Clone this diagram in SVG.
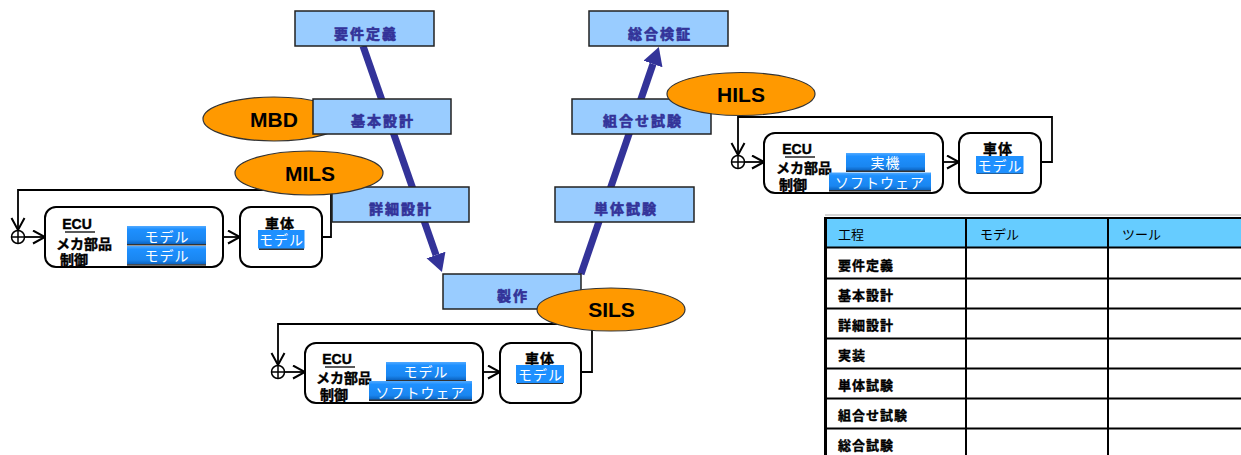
<svg xmlns="http://www.w3.org/2000/svg" width="1241" height="455" viewBox="0 0 1241 455">
  <defs>
    <style>
      text { font-family: "Liberation Sans", "Noto Sans CJK JP", sans-serif; }
      .step { fill: #99CCFF; stroke: #222; stroke-width: 1.5; }
      .steptxt { fill: #333399; stroke: #333399; stroke-width: 0.6; font-size: 14px; font-weight: bold; text-anchor: middle; letter-spacing: 2px; }
      .oval { fill: #FF9900; stroke: #333; stroke-width: 1.2; }
      .ovaltxt { fill: #000; font-size: 21px; font-weight: bold; text-anchor: middle; }
      .vline { stroke: #333399; stroke-width: 7; fill: none; }
      .loop { stroke: #000; stroke-width: 1.8; fill: none; }
      .blk { fill: #fff; stroke: #000; stroke-width: 2; }
      .lbl { fill: #000; stroke: #000; stroke-width: 0.4; font-size: 14px; font-weight: bold; }
      .hl { fill: url(#hlGrad); }
      .hlflat { fill: #1E90FF; }
      .hlshadow { fill: #333; }
      .hltxt { fill: #fff; font-size: 14px; text-anchor: middle; letter-spacing: 1px; }
      .grid { stroke: #000; stroke-width: 2; fill: none; }
      .gridshade { stroke: #aaa; stroke-width: 1; fill: none; }
      .thead { fill: #000; font-size: 13px; }
      .tcell { fill: #000; stroke: #000; stroke-width: 0.35; font-size: 13px; font-weight: bold; letter-spacing: 1px; }
    </style>
    <linearGradient id="hlGrad" x1="0" y1="0" x2="0" y2="1">
      <stop offset="0" stop-color="#52AAFF"/>
      <stop offset="0.18" stop-color="#1E90FF"/>
      <stop offset="0.75" stop-color="#1A86F0"/>
      <stop offset="1" stop-color="#0A5FBA"/>
    </linearGradient>
    <marker id="bigHead" markerUnits="userSpaceOnUse" markerWidth="20" markerHeight="22" refX="0" refY="10" orient="auto">
      <path d="M0,0 L18,10 L0,20 Z" fill="#333399"/>
    </marker>
    <marker id="openHead" markerUnits="userSpaceOnUse" markerWidth="15" markerHeight="16" refX="13" refY="7.5" orient="auto">
      <path d="M1,1 L13,7.5 L1,14" fill="none" stroke="#000" stroke-width="2"/>
    </marker>
  </defs>

  <!-- V-model connectors -->
  <g id="connectors">
    <path class="vline" d="M363,46 L436,255" marker-end="url(#bigHead)"/>
    <path class="vline" d="M581,274 L653,64" marker-end="url(#bigHead)"/>
    <!-- MILS loop -->
    <path class="loop" d="M322,237 H331 V190 H18 V230" marker-end="url(#openHead)"/>
    <path class="loop" d="M24.5,237 H45" marker-end="url(#openHead)"/>
    <path class="loop" d="M223,237 H240" marker-end="url(#openHead)"/>
    <!-- SILS loop -->
    <path class="loop" d="M581,372 H592 V324 H278 V365" marker-end="url(#openHead)"/>
    <path class="loop" d="M284.5,372 H305" marker-end="url(#openHead)"/>
    <path class="loop" d="M483,372 H500" marker-end="url(#openHead)"/>
    <!-- HILS loop -->
    <path class="loop" d="M1041,162 H1052 V117 H738 V155" marker-end="url(#openHead)"/>
    <path class="loop" d="M744.5,162 H764" marker-end="url(#openHead)"/>
    <path class="loop" d="M943,162 H959" marker-end="url(#openHead)"/>
  </g>

  <!-- MBD label sits behind the design step -->
  <g id="mbd">
    <ellipse class="oval" cx="274" cy="119" rx="71" ry="22"/>
    <text class="ovaltxt" x="274" y="126.5">MBD</text>
  </g>

  <!-- V-model steps -->
  <g id="step-req">
    <rect class="step" x="295" y="11" width="139" height="35"/>
    <text class="steptxt" x="366" y="39">要件定義</text>
  </g>
  <g id="step-basic">
    <rect class="step" x="313" y="99" width="138" height="35"/>
    <text class="steptxt" x="383" y="126">基本設計</text>
  </g>
  <g id="step-detail">
    <rect class="step" x="332" y="187" width="137" height="35"/>
    <text class="steptxt" x="401" y="214">詳細設計</text>
  </g>
  <g id="step-make">
    <rect class="step" x="443" y="274" width="138" height="35"/>
    <text class="steptxt" x="513" y="301">製作</text>
  </g>
  <g id="step-unit">
    <rect class="step" x="555" y="187" width="139" height="35"/>
    <text class="steptxt" x="626" y="214">単体試験</text>
  </g>
  <g id="step-integ">
    <rect class="step" x="572" y="99" width="139" height="35"/>
    <text class="steptxt" x="643" y="126">組合せ試験</text>
  </g>
  <g id="step-system">
    <rect class="step" x="589" y="11" width="139" height="35"/>
    <text class="steptxt" x="660" y="39">総合検証</text>
  </g>

  <!-- Simulation labels -->
  <g id="mils">
    <ellipse class="oval" cx="309" cy="173" rx="74" ry="22"/>
    <text class="ovaltxt" x="310" y="181">MILS</text>
  </g>
  <g id="sils">
    <ellipse class="oval" cx="611" cy="309.5" rx="74" ry="21.5"/>
    <text class="ovaltxt" x="611.5" y="317">SILS</text>
  </g>
  <g id="hils">
    <ellipse class="oval" cx="741" cy="94" rx="74" ry="21.5"/>
    <text class="ovaltxt" x="741" y="102">HILS</text>
  </g>

  <!-- MILS loop blocks -->
  <g id="mils-sum">
    <circle cx="18" cy="237" r="6.5" fill="#fff" stroke="#000" stroke-width="1.5"/>
    <path d="M11.5,237 H24.5 M18,230.5 V243.5" stroke="#000" stroke-width="1.5"/>
  </g>
  <g id="mils-ecu">
    <rect class="blk" x="45" y="207" width="178" height="60" rx="11"/>
    <text class="lbl" x="77" y="229" text-anchor="middle">ECU</text>
    <line x1="65" y1="232" x2="95" y2="232" stroke="#000" stroke-width="1.3"/>
    <text class="lbl" x="56" y="249">メカ部品</text>
    <text class="lbl" x="60" y="265">制御</text>
    <rect class="hl" x="127" y="226" width="79" height="18.5"/>
    <rect class="hlshadow" x="127" y="244" width="79" height="1.5"/>
    <text class="hltxt" x="167" y="242">モデル</text>
    <rect class="hl" x="127" y="246" width="79" height="18.5"/>
    <rect class="hlshadow" x="127" y="264.2" width="79" height="1.5"/>
    <text class="hltxt" x="167" y="261">モデル</text>
  </g>
  <g id="mils-body">
    <rect class="blk" x="240" y="207" width="82" height="60" rx="11"/>
    <text class="lbl" x="280" y="229" text-anchor="middle" letter-spacing="1">車体</text>
    <rect class="hlshadow" x="259" y="248" width="45" height="2"/>
    <rect class="hlflat" x="258" y="230" width="46.5" height="18.5"/>
    <text class="hltxt" x="281.5" y="245">モデル</text>
  </g>

  <!-- SILS loop blocks -->
  <g id="sils-sum">
    <circle cx="278" cy="372" r="6.5" fill="#fff" stroke="#000" stroke-width="1.5"/>
    <path d="M271.5,372 H284.5 M278,365.5 V378.5" stroke="#000" stroke-width="1.5"/>
  </g>
  <g id="sils-ecu">
    <rect class="blk" x="305" y="343" width="178" height="60" rx="11"/>
    <text class="lbl" x="337" y="364" text-anchor="middle">ECU</text>
    <line x1="325" y1="367" x2="355" y2="367" stroke="#000" stroke-width="1.3"/>
    <text class="lbl" x="316" y="383">メカ部品</text>
    <text class="lbl" x="320" y="400">制御</text>
    <rect class="hl" x="386" y="362" width="80" height="18.5"/>
    <rect class="hlshadow" x="386" y="380" width="80" height="1.5"/>
    <text class="hltxt" x="426" y="377">モデル</text>
    <rect class="hl" x="369" y="381" width="103" height="19"/>
    <rect class="hlshadow" x="369" y="399.5" width="103" height="1.5"/>
    <text class="hltxt" x="420.5" y="397.5" letter-spacing="0">ソフトウェア</text>
  </g>
  <g id="sils-body">
    <rect class="blk" x="500" y="343" width="81" height="60" rx="11"/>
    <text class="lbl" x="540" y="364" text-anchor="middle" letter-spacing="1">車体</text>
    <rect class="hlshadow" x="517" y="382" width="46" height="2"/>
    <rect class="hlflat" x="516" y="365" width="48" height="18"/>
    <text class="hltxt" x="540.5" y="380">モデル</text>
  </g>

  <!-- HILS loop blocks -->
  <g id="hils-sum">
    <circle cx="738" cy="162" r="6.5" fill="#fff" stroke="#000" stroke-width="1.5"/>
    <path d="M731.5,162 H744.5 M738,155.5 V168.5" stroke="#000" stroke-width="1.5"/>
  </g>
  <g id="hils-ecu">
    <rect class="blk" x="764" y="133" width="179" height="60" rx="11"/>
    <text class="lbl" x="797" y="154" text-anchor="middle">ECU</text>
    <line x1="785" y1="157" x2="815" y2="157" stroke="#000" stroke-width="1.3"/>
    <text class="lbl" x="776" y="173">メカ部品</text>
    <text class="lbl" x="779" y="190">制御</text>
    <rect class="hl" x="846" y="153" width="79" height="18"/>
    <rect class="hlshadow" x="846" y="170.5" width="79" height="1.5"/>
    <text class="hltxt" x="885.5" y="168">実機</text>
    <rect class="hl" x="829" y="172.5" width="102" height="18"/>
    <rect class="hlshadow" x="829" y="190" width="102" height="1.5"/>
    <text class="hltxt" x="880" y="188" letter-spacing="0">ソフトウェア</text>
  </g>
  <g id="hils-body">
    <rect class="blk" x="959" y="133" width="82" height="60" rx="11"/>
    <text class="lbl" x="998" y="154" text-anchor="middle" letter-spacing="1">車体</text>
    <rect class="hlshadow" x="977" y="172" width="46" height="2"/>
    <rect class="hlflat" x="976" y="156" width="47.5" height="17.5"/>
    <text class="hltxt" x="1000" y="171">モデル</text>
  </g>

  <!-- Process / model / tool table -->
  <g id="table">
    <rect x="825" y="218" width="416" height="29.5" fill="#66CCFF"/>
    <line class="gridshade" x1="825" y1="215" x2="1241" y2="215"/>
    <path class="grid" d="M825,218 H1241 M825,247.5 H1241 M825,278.5 H1241 M825,308.5 H1241 M825,338.5 H1241 M825,368.5 H1241 M825,398.5 H1241 M825,428.5 H1241"/>
    <path class="grid" d="M966,218 V455 M1108,218 V455"/>
    <line x1="825.5" y1="217" x2="825.5" y2="455" stroke="#000" stroke-width="3"/>
    <text class="thead" x="838" y="239">工程</text>
    <text class="thead" x="980" y="239">モデル</text>
    <text class="thead" x="1122" y="239">ツール</text>
    <text class="tcell" x="838" y="270">要件定義</text>
    <text class="tcell" x="838" y="300">基本設計</text>
    <text class="tcell" x="838" y="330">詳細設計</text>
    <text class="tcell" x="838" y="360">実装</text>
    <text class="tcell" x="838" y="390">単体試験</text>
    <text class="tcell" x="838" y="420">組合せ試験</text>
    <text class="tcell" x="838" y="450">総合試験</text>
  </g>
</svg>
